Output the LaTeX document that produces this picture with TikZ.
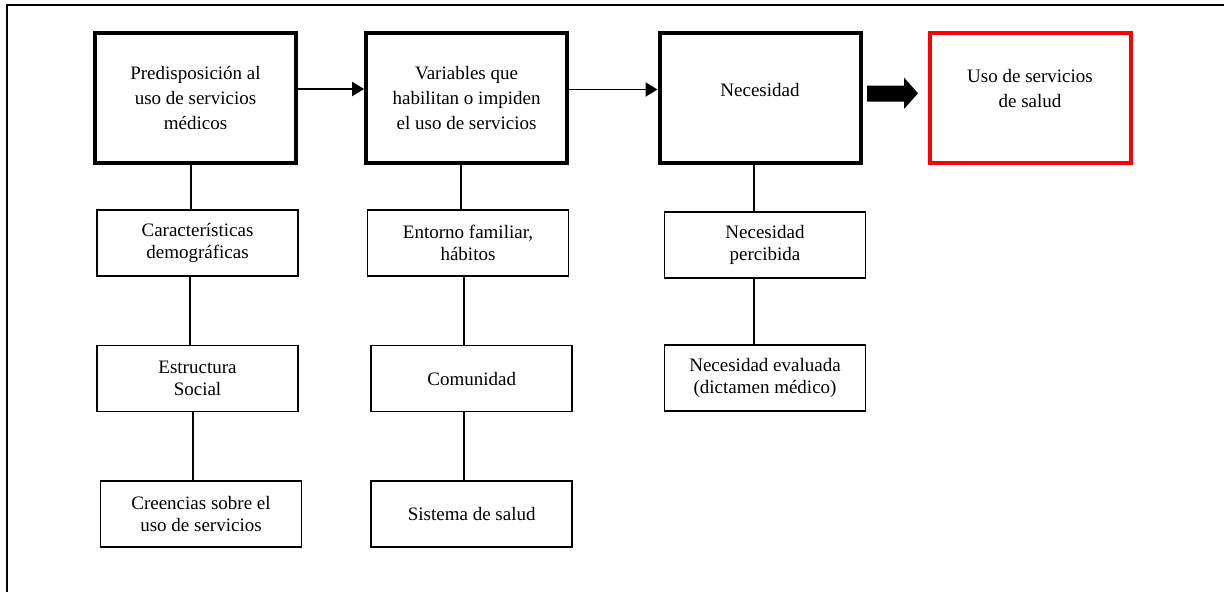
\documentclass[tikz,border=0pt]{standalone}
\usepackage{fontspec}
\setmainfont{Liberation Serif}
\usetikzlibrary{arrows.meta}
\begin{document}
\begin{tikzpicture}[x=1pt,y=-1pt,
  topbox/.style={draw, line width=4pt, minimum width=201pt, minimum height=130pt, align=center, font=\fontsize{19}{25}\selectfont, inner sep=0pt},
  redbox/.style={topbox, draw=red},
  boxtext/.style={align=center, font=\fontsize{19}{25}\selectfont, inner sep=0pt},
  subbox/.style={draw, line width=1.9pt, minimum width=201pt, minimum height=66pt, align=center, font=\fontsize{19}{22.5}\selectfont, inner sep=0pt},
  link/.style={line width=1.9pt},
  flow/.style={line width=1.9pt, -{Triangle[length=12pt,width=14pt]}},
  frameline/.style={line width=2.4pt}]
\useasboundingbox (0,0) rectangle (1224,592);
% frame
\coordinate (fTL) at (7,5);
\coordinate (fTR) at (1224,5);
\coordinate (fBL) at (7,592);
\draw[frameline] (fTR) -- (fTL) -- (fBL);
% top row
\node[topbox] (b1) at (195.5,98) {Predisposición al\\uso de servicios\\médicos};
\node[topbox] (b2) at (466.6,98) {Variables que\\habilitan o impiden\\el uso de servicios};
\node[topbox] (b3) at (760,98) {};
\node[boxtext] (t3) at ([yshift=8.5pt]b3.center) {Necesidad};
\node[redbox] (b4) at (1030,98) {};
\node[boxtext] (t4) at ([yshift=9.5pt]b4.center) {Uso de servicios\\de salud};
% column 1
\node[subbox] (c1) at (197.5,243) {Características\\demográficas};
\node[subbox] (c2) at (197.5,378.5) {Estructura\\Social};
\node[subbox] (c3) at (201,514) {Creencias sobre el\\uso de servicios};
% column 2
\node[subbox] (d1) at (468,243) {Entorno familiar,\\hábitos};
\node[subbox] (d2) at (471.7,378.5) {Comunidad};
\node[subbox] (d3) at (471.7,514) {Sistema de salud};
% column 3
\node[subbox] (e1) at (765,245) {Necesidad\\percibida};
\node[subbox] (e2) at (765,378) {Necesidad evaluada\\(dictamen médico)};
% flow arrows
\draw[flow] ([yshift=9pt]b1.east) -- ([yshift=9pt]b1.east -| b2.west);
\draw[flow] ([yshift=8.5pt]b2.east) -- ([yshift=8.5pt]b2.east -| b3.west);
\begin{scope}[shift={(b3.east)}]
\fill (4.5,-12.5) -- (41.5,-12.5) -- (41.5,-20.4) -- (55.5,-4.7) -- (41.5,11) -- (41.5,3.5) -- (4.5,3.5) -- cycle;
\end{scope}
% vertical links
\draw[link] ([xshift=-4.5pt]b1.south) -- ([xshift=-4.5pt]b1.south |- c1.north);
\draw[link] ([xshift=-7.8pt]c1.south) -- ([xshift=-7.8pt]c1.south |- c2.north);
\draw[link] ([xshift=-4.2pt]c2.south) -- ([xshift=-4.2pt]c2.south |- c3.north);
\draw[link] ([xshift=-5.8pt]b2.south) -- ([xshift=-5.8pt]b2.south |- d1.north);
\draw[link] ([xshift=-3.7pt]d1.south) -- ([xshift=-3.7pt]d1.south |- d2.north);
\draw[link] ([xshift=-7.4pt]d2.south) -- ([xshift=-7.4pt]d2.south |- d3.north);
\draw[link] ([xshift=-6pt]b3.south) -- ([xshift=-6pt]b3.south |- e1.north);
\draw[link] ([xshift=-11pt]e1.south) -- ([xshift=-11pt]e1.south |- e2.north);
\end{tikzpicture}
\end{document}
